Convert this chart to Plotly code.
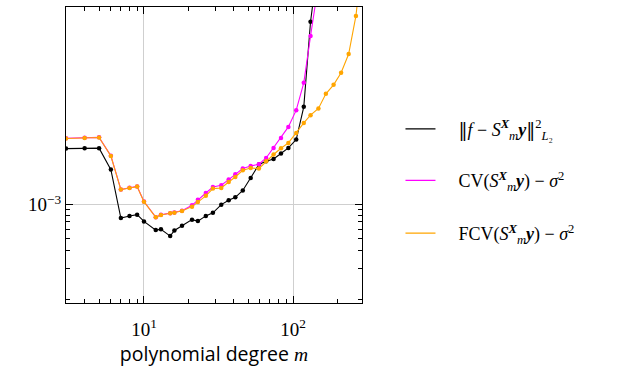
import numpy as np
import plotly.graph_objects as go

# polynomial degrees
m_err = [3, 4, 5, 6, 7, 8, 9, 10, 12, 13, 15, 16, 18, 21, 23, 26, 29, 33, 37, 41, 46, 52, 59, 66, 74, 83, 93, 105, 118, 131, 148]
m_cv = [3, 4, 5, 6, 7, 8, 9, 10, 12, 13, 15, 16, 18, 21, 23, 26, 29, 33, 37, 41, 46, 52, 59, 66, 74, 83, 93, 105, 118, 131, 148]
m_fcv = [3, 4, 5, 6, 7, 8, 9, 10, 12, 13, 15, 16, 18, 21, 23, 26, 29, 33, 37, 41, 46, 52, 59, 66, 74, 83, 93, 105, 118, 131, 148, 166, 187, 210, 236, 264, 296]

# ||f - S y||^2_L2
err = [3.94e-3, 3.97e-3, 3.98e-3, 2.36e-3, 7.24e-4, 7.61e-4, 7.87e-4, 6.68e-4, 5.40e-4, 5.50e-4,
       4.67e-4, 5.36e-4, 6.02e-4, 6.97e-4, 6.73e-4, 7.64e-4, 8.23e-4, 1.005e-3, 1.12e-3, 1.20e-3,
       1.42e-3, 1.92e-3, 2.67e-3, 2.89e-3, 3.06e-3, 3.49e-3, 4.00e-3, 4.91e-3, 1.09e-2, 8.68e-2, 0.39]
# CV - sigma^2
cv = [5.06e-3, 5.13e-3, 5.18e-3, 3.30e-3, 1.455e-3, 1.512e-3, 1.565e-3, 1.085e-3, 7.40e-4, 7.83e-4,
      8.16e-4, 8.30e-4, 8.65e-4, 9.88e-4, 1.130e-3, 1.334e-3, 1.544e-3, 1.61e-3, 1.85e-3, 2.106e-3,
      2.42e-3, 2.58e-3, 2.69e-3, 3.135e-3, 4.00e-3, 5.11e-3, 6.68e-3, 1.005e-2, 1.957e-2, 6.12e-2, 0.217]
# FCV - sigma^2
fcv = [5.04e-3, 5.11e-3, 5.16e-3, 3.29e-3, 1.45e-3, 1.507e-3, 1.56e-3, 1.081e-3, 7.37e-4, 7.80e-4,
       8.13e-4, 8.27e-4, 8.60e-4, 9.57e-4, 1.071e-3, 1.246e-3, 1.485e-3, 1.507e-3, 1.745e-3, 1.971e-3,
       2.322e-3, 2.456e-3, 2.42e-3, 2.893e-3, 3.41e-3, 3.975e-3, 4.523e-3, 5.77e-3, 7.37e-3, 8.89e-3,
       1.048e-2, 1.496e-2, 1.864e-2, 2.498e-2, 3.945e-2, 9.98e-2, 0.5]

pad = "&nbsp;" * 4
bars = "<span style='font-family:DejaVu Serif'>‖</span>"
SX = "<i>S</i><sup><b><i>X</i></b></sup><sub><i>m</i></sub><b><i>y</i></b>"
names = [
    pad + bars + "<i>f</i> − " + SX + bars + "<sup>2</sup><sub><i>L</i>₂</sub>",
    pad + "CV(" + SX + ") − <i>σ</i><sup>2</sup>",
    pad + "FCV(" + SX + ") − <i>σ</i><sup>2</sup>",
]
colors = ["#000000", "#ff00ff", "#ffa500"]
legend_ids = ["legend", "legend2", "legend3"]
legend_rows = [0.587, 0.413, 0.235]

x_ticks = [10, 100]
x_ticktext = ["10<sup>1</sup>", "10<sup>2</sup>"]
y_ticks = [1e-3]
y_ticktext = ["10<sup>−3</sup>"]
x_minor = [4, 5, 6, 7, 8, 9, 20, 30, 40, 50, 60, 70, 80, 90, 200]
y_minor = list(np.linspace(1e-4, 1e-3, 9)[:-1])

fig = go.Figure()
for xs, ys, c in [(m_err, err, colors[0]), (m_cv, cv, colors[1]), (m_fcv, fcv, colors[2])]:
    fig.add_trace(go.Scatter(x=xs, y=ys, mode="lines+markers", showlegend=False,
                             line=dict(color=c, width=1.1), marker=dict(color=c, size=4.5)))
for n, c, lid in zip(names, colors, legend_ids):
    fig.add_trace(go.Scatter(x=[None], y=[None], mode="lines", name=n, legend=lid,
                             line=dict(color=c, width=1.3)))

serif = "Liberation Serif, DejaVu Serif, serif"
legend_common = dict(xanchor="left", yanchor="middle", font=dict(family=serif, size=18),
                     bgcolor="rgba(0,0,0,0)", itemwidth=30)
fig.update_layout(
    width=629, height=371,
    margin=dict(l=66, r=267, t=7, b=68, autoexpand=False),
    paper_bgcolor="white", plot_bgcolor="white",
    font=dict(family=serif, size=18, color="black"),
    legend=dict(x=1.13, y=legend_rows[0], **legend_common),
    legend2=dict(x=1.13, y=legend_rows[1], **legend_common),
    legend3=dict(x=1.13, y=legend_rows[2], **legend_common),
    xaxis=dict(type="log", range=[np.log10(3), np.log10(290)],
               tickmode="array", tickvals=x_ticks, ticktext=x_ticktext,
               ticks="inside", ticklen=7, tickcolor="black", tickwidth=1,
               showline=True, linecolor="black", linewidth=1.2, mirror="ticks",
               showgrid=True, gridcolor="#cfcfcf", gridwidth=1, zeroline=False,
               tickfont=dict(family=serif, size=19), ticklabelstandoff=9,
               minor=dict(tickmode="array", tickvals=x_minor, ticks="inside", ticklen=4,
                          tickcolor="black", showgrid=False),
               title=dict(text="polynomial degree <i><span style='font-family:Liberation Serif'>m</span></i>",
                          font=dict(family="Open Sans, sans-serif", size=19.5), standoff=5)),
    yaxis=dict(type="log", range=[-4.039, -0.906],
               tickmode="array", tickvals=y_ticks, ticktext=y_ticktext,
               ticks="inside", ticklen=7, tickcolor="black", tickwidth=1,
               showline=True, linecolor="black", linewidth=1.2, mirror="ticks",
               showgrid=True, gridcolor="#cfcfcf", gridwidth=1, zeroline=False,
               tickfont=dict(family=serif, size=19),
               minor=dict(tickmode="array", tickvals=y_minor, ticks="inside", ticklen=4,
                          tickcolor="black", showgrid=False)),
)
fig.write_html("out.html", config={"displayModeBar": False},
               post_script="document.body.style.margin='0px';")
